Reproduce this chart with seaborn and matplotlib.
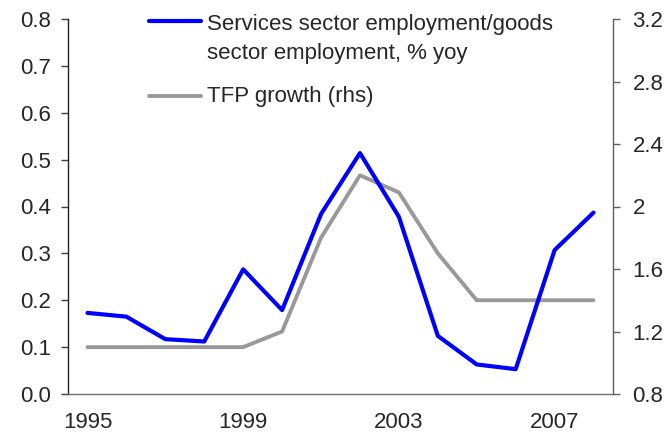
import matplotlib
matplotlib.use("Agg")
import matplotlib.pyplot as plt
from matplotlib.lines import Line2D
import seaborn as sns
import pandas as pd

# Annual data, 1995-2008
years = list(range(1995, 2009))
services_goods_ratio = [0.173, 0.165, 0.117, 0.112, 0.266, 0.179, 0.384, 0.514,
                        0.378, 0.124, 0.063, 0.053, 0.307, 0.387]
tfp_growth = [1.1, 1.1, 1.1, 1.1, 1.1, 1.2, 1.8, 2.2, 2.09, 1.7, 1.4, 1.4, 1.4, 1.4]

year_labels = ["1995", "1999", "2003", "2007"]
left_ticks = [0.0, 0.1, 0.2, 0.3, 0.4, 0.5, 0.6, 0.7, 0.8]
left_labels = ["0.0", "0.1", "0.2", "0.3", "0.4", "0.5", "0.6", "0.7", "0.8"]
right_ticks = [0.8, 1.2, 1.6, 2.0, 2.4, 2.8, 3.2]
right_labels = ["0.8", "1.2", "1.6", "2", "2.4", "2.8", "3.2"]

label_services = ["Services sector employment/goods", "sector employment, % yoy"]
label_tfp = "TFP growth (rhs)"

BLUE = "#0000FF"
GREY = "#999999"
FS = 16

sns.set_style("white")
plt.rcParams["font.family"] = ["Liberation Sans", "DejaVu Sans"]
plt.rcParams["font.size"] = FS

df = pd.DataFrame({
    "pos": range(len(years)),
    "services": services_goods_ratio,
    "tfp": tfp_growth,
})

fig = plt.figure(figsize=(6.66, 4.37), dpi=100)
W, H = 666, 437
ax = fig.add_axes([68 / W, 1 - 394 / H, (613 - 68) / W, (394 - 19) / H])
ax2 = ax.twinx()

sns.lineplot(data=df, x="pos", y="services", ax=ax, color=BLUE, linewidth=3.0,
             legend=False)
sns.lineplot(data=df, x="pos", y="tfp", ax=ax2, color=GREY, linewidth=2.8,
             legend=False)
ax.set_zorder(ax2.get_zorder() + 1)
ax.patch.set_visible(False)

n = len(years)
ax.set_xlim(-0.5, n - 0.5)
ax.set_ylim(0, 0.8)
ax2.set_ylim(0.8, 3.2)

# category axis: labels centred on years, tick marks on the boundaries
label_pos = [years.index(int(y)) for y in year_labels]
ax.set_xticks(label_pos)
ax.set_xticklabels(year_labels)
ax.set_xticks([p - 0.5 for p in label_pos], minor=True)
ax.tick_params(axis="x", which="major", length=0, pad=13, labelsize=FS)
ax.tick_params(axis="x", which="minor", length=5, width=1, color="#404040",
               direction="out")

ax.set_yticks(left_ticks)
ax.set_yticklabels(left_labels)
ax.tick_params(axis="y", length=5, width=1, color="#404040", direction="out",
               pad=7, labelsize=FS, left=True)
ax2.set_yticks(right_ticks)
ax2.set_yticklabels(right_labels)
ax2.tick_params(axis="y", length=5, width=1, color="#606060", direction="out",
                pad=9, labelsize=FS, right=True)

for a in (ax, ax2):
    a.set_xlabel("")
    a.set_ylabel("")
    a.spines["top"].set_visible(False)
ax.spines["right"].set_visible(False)
ax.spines["left"].set_color("#202020")
ax.spines["bottom"].set_color("#707070")
ax2.spines["left"].set_visible(False)
ax2.spines["bottom"].set_visible(False)
ax2.spines["right"].set_color("#606060")
for s in ("left", "bottom"):
    ax.spines[s].set_linewidth(1.0)
ax2.spines["right"].set_linewidth(1.0)


# legend entries, placed in figure pixels
def fx(px):
    return px / W


def fy(py):
    return 1 - py / H


fig.add_artist(Line2D([fx(149), fx(201)], [fy(21), fy(21)], color=BLUE,
                      linewidth=3.0, transform=fig.transFigure))
fig.text(fx(207), fy(30), label_services[0], ha="left", va="baseline",
         fontsize=FS, transform=fig.transFigure)
fig.text(fx(207), fy(59), label_services[1], ha="left", va="baseline",
         fontsize=FS, transform=fig.transFigure)
fig.add_artist(Line2D([fx(149), fx(201)], [fy(96), fy(96)], color=GREY,
                      linewidth=2.8, transform=fig.transFigure))
fig.text(fx(207), fy(102), label_tfp, ha="left", va="baseline", fontsize=FS,
         transform=fig.transFigure)

fig.savefig("out.png", dpi=100)
